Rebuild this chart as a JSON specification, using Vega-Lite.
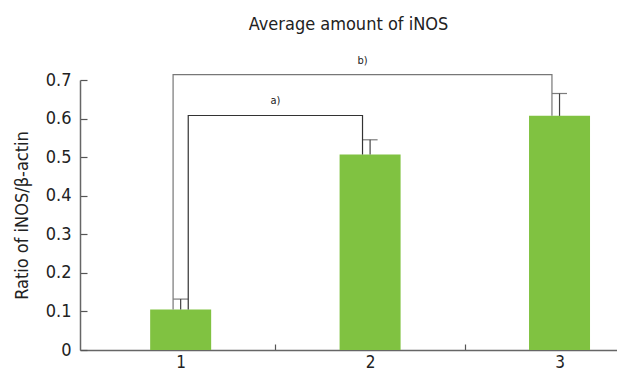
{
  "$schema": "https://vega.github.io/schema/vega-lite/v6.json",
  "autosize": {"type": "none"},
  "padding": {"left": 80, "top": 80, "right": 0, "bottom": 24},
  "width": 537,
  "height": 270,
  "background": "white",
  "config": {
    "view": {"stroke": null},
    "font": "DejaVu Sans Condensed, Roboto",
    "title": {"font": "DejaVu Sans Condensed, Roboto", "fontWeight": "normal", "fontSize": 18, "color": "#222"},
    "axis": {"labelFont": "DejaVu Sans Condensed, Roboto", "titleFont": "DejaVu Sans Condensed, Roboto"}
  },
  "title": {"text": "Average amount of iNOS", "offset": 21},
  "datasets": {
    "bars": [
      {"group": 1, "value": 0.105, "upper": 0.132},
      {"group": 2, "value": 0.507, "upper": 0.545},
      {"group": 3, "value": 0.607, "upper": 0.665}
    ],
    "brackets": [
      {"id": "a", "order": 1, "x": 1.04, "y": 0.105},
      {"id": "a", "order": 2, "x": 1.04, "y": 0.608},
      {"id": "a", "order": 3, "x": 1.96, "y": 0.608},
      {"id": "a", "order": 4, "x": 1.96, "y": 0.507},
      {"id": "b", "order": 1, "x": 0.96, "y": 0.105},
      {"id": "b", "order": 2, "x": 0.96, "y": 0.714},
      {"id": "b", "order": 3, "x": 2.96, "y": 0.714},
      {"id": "b", "order": 4, "x": 2.96, "y": 0.607}
    ],
    "labels": [
      {"text": "a)", "x": 1.5, "y": 0.608},
      {"text": "b)", "x": 1.96, "y": 0.714}
    ]
  },
  "layer": [
    {
      "data": {"name": "bars"},
      "mark": {"type": "bar", "size": 61, "color": "#80c241"},
      "encoding": {
        "x": {
          "field": "group", "type": "quantitative",
          "scale": {"domain": [0.495, 3.277], "nice": false, "zero": false},
          "axis": {"title": null, "values": [1, 1.5, 2, 2.5, 3], "format": ".0f", "labelExpr": "datum.value % 1 ? '' : datum.label", "tickOpacity": {"expr": "datum.value % 1 ? 1 : 0"}, "tickSize": -6, "tickColor": "#555", "tickWidth": 1.2, "domainColor": "#666", "domainWidth": 1.5, "labelFontSize": 17, "labelColor": "#222", "labelPadding": 10, "grid": false}
        },
        "y": {
          "field": "value", "type": "quantitative",
          "scale": {"domain": [0, 0.7], "nice": false},
          "axis": {"title": "Ratio of iNOS/β-actin", "titleFontSize": 18, "titleFontWeight": "normal", "titleColor": "#222", "titlePadding": 14, "values": [0, 0.1, 0.2, 0.3, 0.4, 0.5, 0.6, 0.7], "format": ".1~f", "tickSize": -7, "tickColor": "#555", "tickWidth": 1.2, "domainColor": "#666", "domainWidth": 1.5, "labelFontSize": 18, "labelColor": "#222", "labelPadding": 16, "labelOverlap": false, "grid": false}
        }
      }
    },
    {
      "data": {"name": "bars"},
      "mark": {"type": "rule", "color": "#444", "strokeWidth": 1.2, "clip": false},
      "encoding": {
        "x": {"field": "group", "type": "quantitative",
          "axis": {"title": null, "values": [1, 1.5, 2, 2.5, 3], "format": ".0f", "labelExpr": "datum.value % 1 ? '' : datum.label", "tickOpacity": {"expr": "datum.value % 1 ? 1 : 0"}, "tickSize": -6, "tickColor": "#555", "tickWidth": 1.2, "domainColor": "#666", "domainWidth": 1.5, "labelFontSize": 17, "labelColor": "#222", "labelPadding": 10, "grid": false}},
        "y": {"field": "value", "type": "quantitative",
          "axis": {"title": "Ratio of iNOS/β-actin", "titleFontSize": 18, "titleFontWeight": "normal", "titleColor": "#222", "titlePadding": 14, "values": [0, 0.1, 0.2, 0.3, 0.4, 0.5, 0.6, 0.7], "format": ".1~f", "tickSize": -7, "tickColor": "#555", "tickWidth": 1.2, "domainColor": "#666", "domainWidth": 1.5, "labelFontSize": 18, "labelColor": "#222", "labelPadding": 16, "labelOverlap": false, "grid": false}},
        "y2": {"field": "upper"}
      }
    },
    {
      "data": {"name": "bars"},
      "mark": {"type": "tick", "orient": "horizontal", "size": 15, "thickness": 1.2, "color": "#444", "clip": false},
      "encoding": {
        "x": {"field": "group", "type": "quantitative",
          "axis": {"title": null, "values": [1, 1.5, 2, 2.5, 3], "format": ".0f", "labelExpr": "datum.value % 1 ? '' : datum.label", "tickOpacity": {"expr": "datum.value % 1 ? 1 : 0"}, "tickSize": -6, "tickColor": "#555", "tickWidth": 1.2, "domainColor": "#666", "domainWidth": 1.5, "labelFontSize": 17, "labelColor": "#222", "labelPadding": 10, "grid": false}},
        "y": {"field": "upper", "type": "quantitative",
          "axis": {"title": "Ratio of iNOS/β-actin", "titleFontSize": 18, "titleFontWeight": "normal", "titleColor": "#222", "titlePadding": 14, "values": [0, 0.1, 0.2, 0.3, 0.4, 0.5, 0.6, 0.7], "format": ".1~f", "tickSize": -7, "tickColor": "#555", "tickWidth": 1.2, "domainColor": "#666", "domainWidth": 1.5, "labelFontSize": 18, "labelColor": "#222", "labelPadding": 16, "labelOverlap": false, "grid": false}}
      }
    },
    {
      "data": {"name": "brackets"},
      "mark": {"type": "line", "strokeWidth": 1.2, "clip": false, "interpolate": "linear"},
      "encoding": {
        "x": {"field": "x", "type": "quantitative",
          "axis": {"title": null, "values": [1, 1.5, 2, 2.5, 3], "format": ".0f", "labelExpr": "datum.value % 1 ? '' : datum.label", "tickOpacity": {"expr": "datum.value % 1 ? 1 : 0"}, "tickSize": -6, "tickColor": "#555", "tickWidth": 1.2, "domainColor": "#666", "domainWidth": 1.5, "labelFontSize": 17, "labelColor": "#222", "labelPadding": 10, "grid": false}},
        "y": {"field": "y", "type": "quantitative",
          "axis": {"title": "Ratio of iNOS/β-actin", "titleFontSize": 18, "titleFontWeight": "normal", "titleColor": "#222", "titlePadding": 14, "values": [0, 0.1, 0.2, 0.3, 0.4, 0.5, 0.6, 0.7], "format": ".1~f", "tickSize": -7, "tickColor": "#555", "tickWidth": 1.2, "domainColor": "#666", "domainWidth": 1.5, "labelFontSize": 18, "labelColor": "#222", "labelPadding": 16, "labelOverlap": false, "grid": false}},
        "detail": {"field": "id"},
        "order": {"field": "order"},
        "color": {"field": "id", "type": "nominal", "scale": {"domain": ["a", "b"], "range": ["#333", "#777"]}, "legend": null}
      }
    },
    {
      "data": {"name": "labels"},
      "mark": {"type": "text", "fontSize": 11, "dy": -14, "color": "#222", "clip": false},
      "encoding": {
        "x": {"field": "x", "type": "quantitative",
          "axis": {"title": null, "values": [1, 1.5, 2, 2.5, 3], "format": ".0f", "labelExpr": "datum.value % 1 ? '' : datum.label", "tickOpacity": {"expr": "datum.value % 1 ? 1 : 0"}, "tickSize": -6, "tickColor": "#555", "tickWidth": 1.2, "domainColor": "#666", "domainWidth": 1.5, "labelFontSize": 17, "labelColor": "#222", "labelPadding": 10, "grid": false}},
        "y": {"field": "y", "type": "quantitative",
          "axis": {"title": "Ratio of iNOS/β-actin", "titleFontSize": 18, "titleFontWeight": "normal", "titleColor": "#222", "titlePadding": 14, "values": [0, 0.1, 0.2, 0.3, 0.4, 0.5, 0.6, 0.7], "format": ".1~f", "tickSize": -7, "tickColor": "#555", "tickWidth": 1.2, "domainColor": "#666", "domainWidth": 1.5, "labelFontSize": 18, "labelColor": "#222", "labelPadding": 16, "labelOverlap": false, "grid": false}},
        "text": {"field": "text"}
      }
    }
  ]
}
